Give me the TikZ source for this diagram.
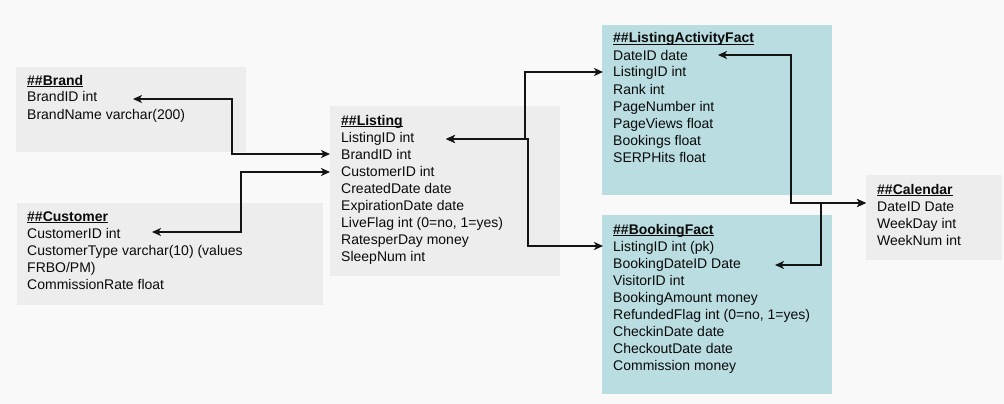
\documentclass[tikz,border=0pt]{standalone}
\usepackage{fontspec}
\setmainfont{Liberation Sans}
\usetikzlibrary{arrows.meta,calc}
\definecolor{bgc}{HTML}{F9F9F9}
\definecolor{graybox}{HTML}{EDEDED}
\definecolor{tealbox}{HTML}{B9DDE0}
\definecolor{ink}{HTML}{141414}
\definecolor{txtc}{HTML}{0A0A0A}
\newcommand\ulttl[1]{\setbox0\hbox{\bfseries #1}\rlap{\rule[-1.8pt]{\wd0}{1.1pt}}\box0}
\newcommand\tabrows[4]{%
  \foreach \txt [count=\i from 0] in {#4} {\node[row] (#1-\i) at (#2,{#3+17*\i}) {\txt};}}
\tikzset{
  boxg/.style={fill=graybox, draw=none, inner sep=0pt, outer sep=0pt, anchor=north west},
  boxt/.style={fill=tealbox, draw=none, inner sep=0pt, outer sep=0pt, anchor=north west},
  row/.style={anchor=base west, inner sep=0pt, font=\fontsize{14}{17}\selectfont, text=txtc},
  link/.style={draw=ink, line width=2pt,
    {Stealth[length=9pt,width=8pt,inset=2.5pt]}-{Stealth[length=9pt,width=8pt,inset=2.5pt]}},
}
\begin{document}
\begin{tikzpicture}[x=1pt,y=-1pt]
\useasboundingbox[fill=bgc] (0,0) rectangle (1004,404);
% boxes
\node[boxg, minimum width=230pt, minimum height=85pt] (brand) at (16,67) {};
\node[boxg, minimum width=306pt, minimum height=102pt] (customer) at (17,203) {};
\node[boxg, minimum width=230pt, minimum height=170pt] (listing) at (330,106) {};
\node[boxt, minimum width=230pt, minimum height=170pt] (laf) at (602,25) {};
\node[boxt, minimum width=230pt, minimum height=179pt] (bf) at (602,215) {};
\node[boxg, minimum width=136pt, minimum height=85pt] (calendar) at (866,175) {};
% texts
\tabrows{br}{27}{85}{{\ulttl{\#\#Brand}}, BrandID int, BrandName varchar(200)}
\tabrows{cu}{27}{221}{{\ulttl{\#\#Customer}}, CustomerID int, CustomerType varchar(10) (values, FRBO/PM), CommissionRate float}
\tabrows{li}{341}{125}{{\ulttl{\#\#Listing}}, ListingID int, BrandID int, CustomerID int, CreatedDate date, ExpirationDate date, {LiveFlag int (0=no, 1=yes)}, RatesperDay money, SleepNum int}
\tabrows{la}{613}{43}{{\ulttl{\#\#ListingActivityFact}}, DateID date, ListingID int, Rank int, PageNumber int, PageViews float, Bookings float, SERPHits float}
\tabrows{bo}{613}{234}{{\ulttl{\#\#BookingFact}}, ListingID int (pk), BookingDateID Date, VisitorID int, BookingAmount money, {RefundedFlag int (0=no, 1=yes)}, CheckinDate date, CheckoutDate date, Commission money}
\tabrows{ca}{877}{194}{{\ulttl{\#\#Calendar}}, DateID Date, WeekDay int, WeekNum int}
% connector ends
\coordinate (pBrandID) at (133,99);
\coordinate (pLiBrand) at (330,154);
\coordinate (pCustID) at (152,232);
\coordinate (pLiCust) at (330,172);
\coordinate (pLiID) at (446,139);
\coordinate (pLafLi) at (603,72);
\coordinate (pBfLi) at (603,246);
\coordinate (pLafDate) at (718,55);
\coordinate (pCalDate) at (866,203);
\coordinate (pBfDate) at (775,265);
% connectors
\draw[link] (pBrandID) -| ($(pBrandID)!.5!(pLiBrand)$) |- (pLiBrand);
\draw[link] (pCustID) -| ($(pCustID)!.5!(pLiCust)$) |- (pLiCust);
\draw[link] (pLiID) -| ($(pLiID)!.5!(pLafLi)$) |- (pLafLi);
\draw[link] (pLiID) -| ($(pLiID)!.52!(pBfLi)$) |- (pBfLi);
\draw[link] (pLafDate) -| ($(pLafDate)!.49!(pCalDate)$) |- (pCalDate);
\draw[link] (pBfDate) -| ($(pBfDate)!.5!(pCalDate)$) |- (pCalDate);
\end{tikzpicture}
\end{document}
